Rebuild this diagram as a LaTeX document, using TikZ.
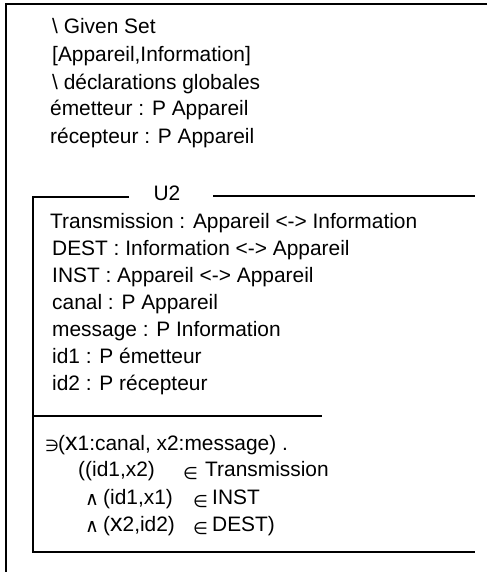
\documentclass[tikz,border=0pt]{standalone}
\usepackage{fontspec}
\setmainfont{Liberation Sans}
\newfontfamily\symfont{DejaVu Sans}
\begin{document}
\begin{tikzpicture}[x=1pt,y=-1pt,
  txt/.style={anchor=base west,inner sep=0pt,font=\fontsize{20.9}{24}\selectfont},
  frame/.style={line width=2pt,line cap=butt},
  sym/.style={anchor=base west,inner sep=0pt,font=\symfont\fontsize{17}{18}\selectfont}]
\useasboundingbox (0,0) rectangle (487,572);
% outer frame
\coordinate (o1) at (487,4);
\coordinate (o2) at (6,4);
\coordinate (o3) at (6,572);
\draw[frame] (o1) -- (o2) -- (o3);
% top declarations
\node[txt] (g1) at (52,34) {\textbackslash\ Given Set};
\node[txt] (g2) at (52,62) {[Appareil,Information]};
\node[txt] (g3) at (52,90) {\textbackslash\ déclarations globales};
\node[txt] (g4) at (50,116) {émetteur : P Appareil};
\node[txt] (g5) at (50,143) {récepteur : P Appareil};
% schema U2
\coordinate (s1) at (129,197);
\coordinate (s2) at (33,197);
\coordinate (s3) at (33,552);
\coordinate (s4) at (475,552);
\coordinate (t1) at (213,196);
\coordinate (t2) at (475,196);
\coordinate (d1) at (33,416);
\coordinate (d2) at (322,416);
\draw[frame] (s1) -- (s2) -- (s3) -- (s4);
\draw[frame] (t1) -- (t2);
\draw[frame] (d1) -- (d2);
\node[txt,anchor=base] (u2) at (167,200) {U2};
\node[txt] (b1) at (50,228) {Transmission : Appareil <-> Information};
\node[txt] (b2) at (52,255) {DEST : Information <-> Appareil};
\node[txt] (b3) at (52,282) {INST : Appareil <-> Appareil};
\node[txt] (b4) at (52,309) {canal : P Appareil};
\node[txt] (b5) at (52,336) {message : P Information};
\node[txt] (b6) at (52,363) {id1 : P émetteur};
\node[txt] (b7) at (52,390) {id2 : P récepteur};
% predicate
\node[sym,font=\symfont\fontsize{16}{16}\selectfont] (p0) at (45,451) {∋};
\node[txt] (p1) at (58,450) {({\fontsize{25}{25}\selectfont x}1:canal, x2:message) .};
\node[txt] (p2) at (78,476) {((id1,x2)};
\node[sym] (p2e) at (183,479) {∈};
\node[txt] (p2t) at (205,476) {Transmission};
\node[sym,font=\symfont\fontsize{19}{19}\selectfont] (p3a) at (85,505) {∧};
\node[txt] (p3) at (103,504) {(id1,x1)};
\node[sym] (p3e) at (193,507) {∈};
\node[txt] (p3t) at (212,504) {INST};
\node[sym,font=\symfont\fontsize{19}{19}\selectfont] (p4a) at (85,532) {∧};
\node[txt] (p4) at (103,531) {({\fontsize{25}{25}\selectfont x}2,id2)};
\node[sym] (p4e) at (193,534) {∈};
\node[txt] (p4t) at (212,531) {DEST)};
\end{tikzpicture}
\end{document}
